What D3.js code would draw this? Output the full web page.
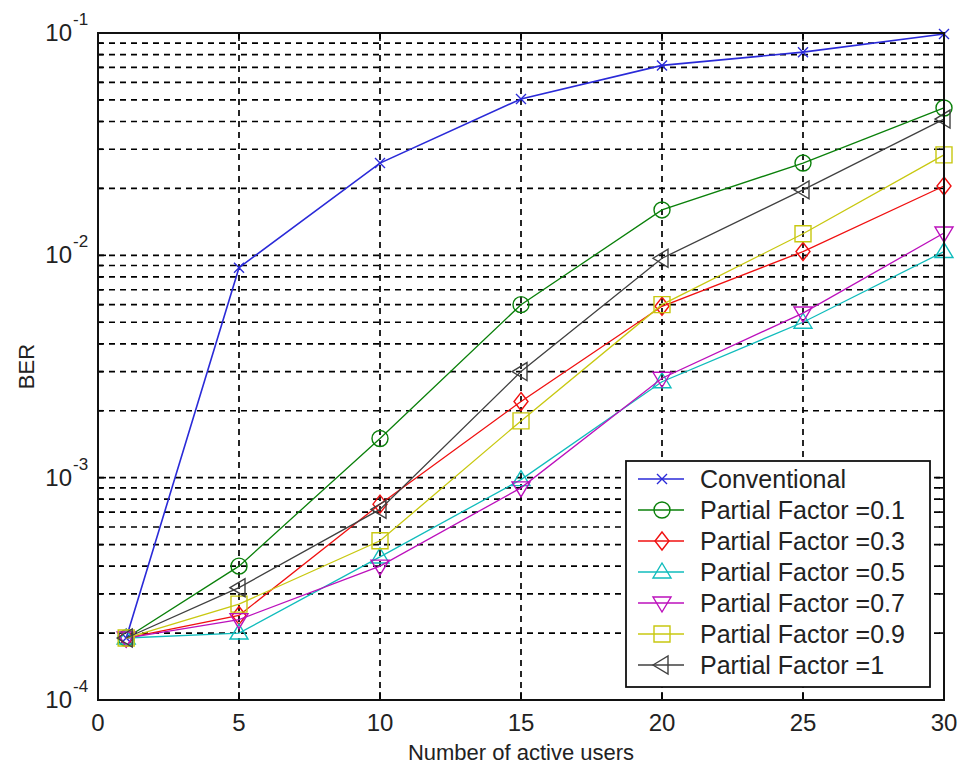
<!DOCTYPE html>
<html>
<head>
<meta charset="utf-8">
<script src="https://cdn.jsdelivr.net/npm/d3@7"></script>
<style>
  html, body { margin: 0; padding: 0; background: #fff; }
  svg { display: block; font-family: "Liberation Sans", Arial, Helvetica, sans-serif; }
</style>
</head>
<body>
<svg id="chart" width="958" height="769"></svg>
<script>
// ---- data ----
const users = [1, 5, 10, 15, 20, 25, 30];
const conventional = [0.00019, 0.0088, 0.026, 0.0505, 0.0715, 0.082, 0.099];
const pf01 = [0.00019, 0.0004, 0.0015, 0.006, 0.016, 0.026, 0.046];
const pf03 = [0.00019, 0.00024, 0.00076, 0.0022, 0.0059, 0.0104, 0.0205];
const pf05 = [0.00019, 0.0002, 0.00044, 0.00098, 0.0027, 0.005, 0.0104];
const pf07 = [0.00019, 0.00023, 0.0004, 0.0009, 0.0028, 0.0055, 0.0126];
const pf09 = [0.00019, 0.00027, 0.00052, 0.0018, 0.006, 0.0125, 0.0283];
const pf1 = [0.00019, 0.00032, 0.00072, 0.003, 0.0097, 0.0197, 0.041];
const seriesNames = ["Conventional", "Partial Factor =0.1", "Partial Factor =0.3",
  "Partial Factor =0.5", "Partial Factor =0.7", "Partial Factor =0.9", "Partial Factor =1"];
const xTicks = [0, 5, 10, 15, 20, 25, 30];
const yDecades = [-4, -3, -2, -1];
const xLabel = "Number of active users";
const yLabel = "BER";

// ---- styles ----
const seriesValues = [conventional, pf01, pf03, pf05, pf07, pf09, pf1];
const colors = ["#2a2ad8", "#0a800a", "#f01010", "#10bcbc", "#bc10bc", "#c8c810", "#404040"];
const markers = ["x", "o", "d", "^", "v", "s", "<"];
const lineW = [1.6, 1.3, 1.3, 1.3, 1.3, 1.3, 1.3];

const L = 98, R = 944, T = 33, B = 700;
const svg = d3.select("#chart");
const x = d3.scaleLinear().domain([0, 30]).range([L, R]);
const y = d3.scaleLog().domain([1e-4, 1e-1]).range([B, T]);

function markerPath(t) {
  switch (t) {
    case "x": return "M-5,-5L5,5M-5,5L5,-5";
    case "o": { const r = 8; return `M${-r},0A${r},${r} 0 1,0 ${r},0A${r},${r} 0 1,0 ${-r},0Z`; }
    case "d": return "M0,-9L7,0L0,9L-7,0Z";
    case "^": return "M0,-9L9,6L-9,6Z";
    case "v": return "M0,9L9,-6L-9,-6Z";
    case "s": return "M-8,-8L8,-8L8,8L-8,8Z";
    case "<": return "M-9,0L6,-9L6,9Z";
  }
}

// grid
const gridG = svg.append("g").attr("stroke", "#000").attr("stroke-width", 1.7)
  .attr("stroke-dasharray", "6,5");
const minorVals = [];
yDecades.forEach(e => {
  for (let m = 1; m <= 9; m++) {
    const v = m * Math.pow(10, e);
    if (v > 1e-4 && v < 1e-1 + 1e-12) minorVals.push(v);
  }
});
minorVals.filter(v => v < 0.0999).forEach(v => {
  gridG.append("line").attr("x1", L).attr("x2", R).attr("y1", y(v)).attr("y2", y(v));
});
xTicks.filter(t => t > 0 && t < 30).forEach(t => {
  gridG.append("line").attr("x1", x(t)).attr("x2", x(t)).attr("y1", T).attr("y2", B);
});

// ticks (inside)
const tickG = svg.append("g").attr("stroke", "#000").attr("stroke-width", 1.6);
xTicks.forEach(t => {
  tickG.append("line").attr("x1", x(t)).attr("x2", x(t)).attr("y1", B).attr("y2", B - 8);
  tickG.append("line").attr("x1", x(t)).attr("x2", x(t)).attr("y1", T).attr("y2", T + 8);
});
minorVals.concat([1e-4]).forEach(v => {
  const len = Math.abs(Math.log10(v) - Math.round(Math.log10(v))) < 1e-9 ? 8 : 5;
  tickG.append("line").attr("x1", L).attr("x2", L + len).attr("y1", y(v)).attr("y2", y(v));
  tickG.append("line").attr("x1", R).attr("x2", R - len).attr("y1", y(v)).attr("y2", y(v));
});

// series
const line = d3.line().x((d, i) => x(users[i])).y(d => y(d));
seriesValues.forEach((vals, k) => {
  svg.append("path").datum(vals).attr("d", line).attr("fill", "none")
    .attr("stroke", colors[k]).attr("stroke-width", lineW[k]);
  svg.append("g").selectAll("path").data(vals).join("path")
    .attr("d", markerPath(markers[k]))
    .attr("transform", (d, i) => `translate(${x(users[i])},${y(d)})`)
    .attr("fill", "none").attr("stroke", colors[k]).attr("stroke-width", 1.4);
});

// box
svg.append("rect").attr("x", L).attr("y", T).attr("width", R - L).attr("height", B - T)
  .attr("fill", "none").attr("stroke", "#111").attr("stroke-width", 2);

// x tick labels
svg.append("g").selectAll("text").data(xTicks).join("text")
  .attr("x", d => x(d)).attr("y", 731).attr("text-anchor", "middle")
  .attr("font-size", 24).attr("fill", "#222").text(d => d);

// y tick labels
yDecades.forEach(e => {
  const yy = y(Math.pow(10, e));
  svg.append("text").attr("x", 72).attr("y", yy + 8).attr("text-anchor", "end")
    .attr("font-size", 24).attr("fill", "#222").text("10");
  svg.append("text").attr("x", 73).attr("y", yy - 8).attr("text-anchor", "start")
    .attr("font-size", 17).attr("fill", "#222").text("-" + Math.abs(e));
});

// axis labels
svg.append("text").attr("x", (L + R) / 2).attr("y", 760).attr("text-anchor", "middle")
  .attr("font-size", 22).attr("fill", "#222").text(xLabel);
svg.append("text").attr("transform", `translate(34,${(T + B) / 2}) rotate(-90)`)
  .attr("text-anchor", "middle").attr("font-size", 22).attr("fill", "#222").text(yLabel);

// legend
const lg = svg.append("g");
lg.append("rect").attr("x", 626).attr("y", 461).attr("width", 304).attr("height", 226)
  .attr("fill", "#fff").attr("stroke", "#111").attr("stroke-width", 1.8);
seriesNames.forEach((name, k) => {
  const yy = 479 + k * 31;
  lg.append("line").attr("x1", 638).attr("x2", 684).attr("y1", yy).attr("y2", yy)
    .attr("stroke", colors[k]).attr("stroke-width", lineW[k]);
  lg.append("path").attr("d", markerPath(markers[k])).attr("transform", `translate(662,${yy})`)
    .attr("fill", "none").attr("stroke", colors[k]).attr("stroke-width", 1.4);
  lg.append("text").attr("x", 700).attr("y", yy + 9).attr("font-size", 25)
    .attr("fill", "#222").text(name);
});
</script>
</body>
</html>
